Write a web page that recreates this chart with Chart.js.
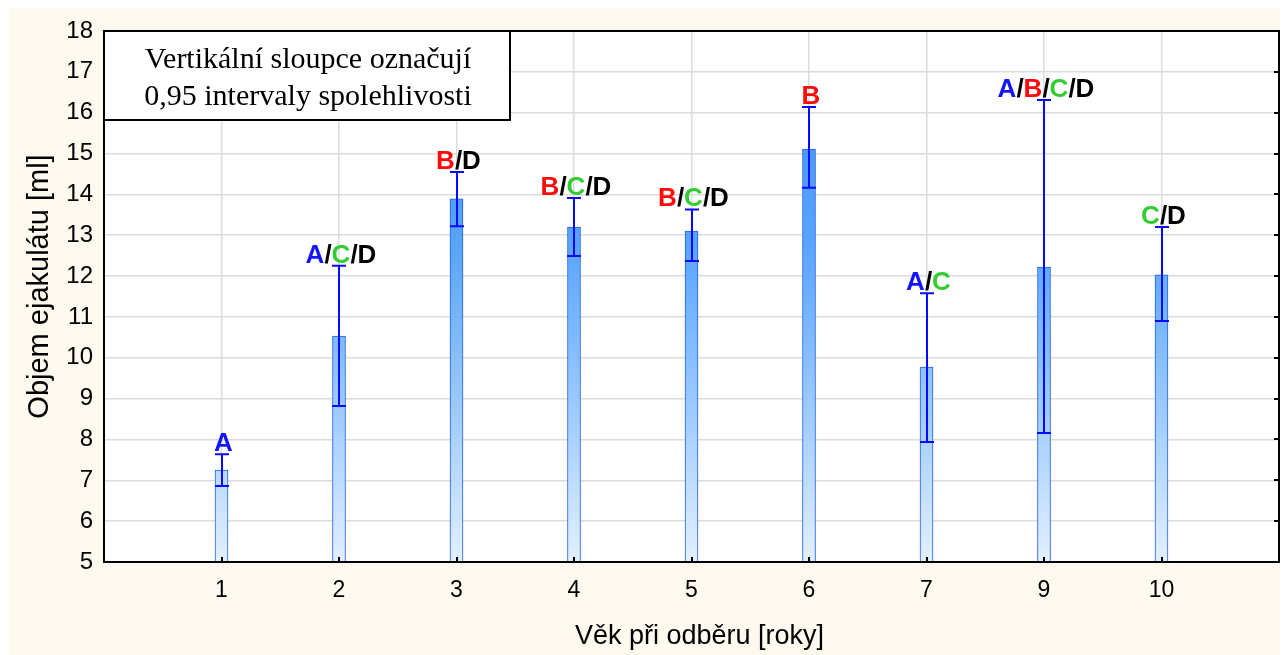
<!DOCTYPE html>
<html><head><meta charset="utf-8">
<script src="https://cdn.jsdelivr.net/npm/chart.js@4/dist/chart.umd.min.js"></script>
<style>html,body{margin:0;padding:0;background:#fff;overflow:hidden;}#wrap{width:1283px;height:655px;position:relative;overflow:hidden;}canvas{display:block;}</style>
</head><body><div id="wrap"><canvas id="c" width="1294" height="655"></canvas></div>
<script>
const categories = ['1','2','3','4','5','6','7','9','10'];
const means = [7.25, 10.53, 13.89, 13.2, 13.1, 15.11, 9.77, 12.22, 12.03];
const lower = [6.86, 8.82, 13.22, 12.49, 12.37, 14.16, 7.94, 8.16, 10.9];
const upper = [7.64, 12.25, 14.55, 13.91, 13.63, 16.14, 11.58, 16.31, 13.2];
const groups = ['A', 'A/C/D', 'B/D', 'B/C/D', 'B/C/D', 'B', 'A/C', 'A/B/C/D', 'C/D'];
const yTicks = [5,6,7,8,9,10,11,12,13,14,15,16,17,18];
const noteLines = ['Vertikální sloupce označují', '0,95 intervaly spolehlivosti'];
const xTitle = 'Věk při odběru [roky]';
const yTitle = 'Objem ejakulátu [ml]';

const labels = [''].concat(categories).concat(['']);
const barData = [null].concat(means).concat([null]);
const letterColors = {A:'#1414ff', B:'#ff0a0a', C:'#33cc33', D:'#000000', '/':'#000000'};

const bgPlugin = {
  id:'bg',
  beforeDraw(chart){
    const ctx = chart.ctx, a = chart.chartArea;
    ctx.save();
    ctx.fillStyle = '#ffffff';
    ctx.fillRect(0,0,chart.width,chart.height);
    ctx.fillStyle = '#fef9ee';
    ctx.fillRect(9,8,1271,chart.height-8);
    ctx.fillStyle = '#ffffff';
    ctx.fillRect(a.left,a.top,a.right-a.left,a.bottom-a.top);
    ctx.restore();
  }
};

const overlay = {
  id:'overlay',
  afterDatasetsDraw(chart){
    const ctx = chart.ctx, a = chart.chartArea;
    const xs = chart.scales.x, ys = chart.scales.y;
    ctx.save();
    // error bars
    ctx.strokeStyle = '#0a0aff';
    ctx.lineWidth = 2;
    categories.forEach((c,i)=>{
      const x = Math.round(xs.getPixelForValue(i+1));
      const yl = ys.getPixelForValue(lower[i]);
      const yu = ys.getPixelForValue(upper[i]);
      ctx.beginPath();
      ctx.moveTo(x, yl); ctx.lineTo(x, yu);
      ctx.moveTo(x-7, yl); ctx.lineTo(x+7, yl);
      ctx.moveTo(x-7, yu); ctx.lineTo(x+7, yu);
      ctx.stroke();
    });
    // group letters
    ctx.font = 'bold 26px "Liberation Sans", Arial, sans-serif';
    ctx.textBaseline = 'alphabetic';
    ctx.textAlign = 'left';
    categories.forEach((c,i)=>{
      const x = xs.getPixelForValue(i+1);
      const yu = ys.getPixelForValue(upper[i]);
      const s = groups[i];
      const w = ctx.measureText(s).width;
      let cx = x - w/2 + 2;
      for (const ch of s){
        ctx.fillStyle = letterColors[ch] || '#000';
        ctx.fillText(ch, cx, yu - 3);
        cx += ctx.measureText(ch).width;
      }
    });
    // inner ticks
    ctx.strokeStyle = '#000';
    ctx.lineWidth = 2;
    categories.forEach((c,i)=>{
      const x = Math.round(xs.getPixelForValue(i+1));
      ctx.beginPath(); ctx.moveTo(x, a.bottom); ctx.lineTo(x, a.bottom-5); ctx.stroke();
    });
    yTicks.forEach(v=>{
      const y = Math.round(ys.getPixelForValue(v));
      ctx.beginPath(); ctx.moveTo(a.right, y); ctx.lineTo(a.right-5, y); ctx.stroke();
    });
    // frame
    ctx.strokeStyle = '#000';
    ctx.lineWidth = 2;
    ctx.strokeRect(a.left, a.top, a.right-a.left, a.bottom-a.top);
    // note box
    ctx.fillStyle = '#fff';
    ctx.fillRect(a.left, a.top, 406, 89);
    ctx.lineWidth = 2;
    ctx.strokeRect(a.left, a.top, 406, 89);
    ctx.fillStyle = '#000';
    ctx.font = '30px "Liberation Serif", "Times New Roman", serif';
    ctx.textAlign = 'center';
    ctx.textBaseline = 'middle';
    ctx.fillText(noteLines[0], a.left+204, a.top+29);
    ctx.fillText(noteLines[1], a.left+204, a.top+66);
    // titles
    ctx.font = '27px "Liberation Sans", Arial, sans-serif';
    ctx.fillText(xTitle, (a.left+a.right)/2 + 8, 637);
    ctx.save();
    ctx.font = '29px "Liberation Sans", Arial, sans-serif';
    ctx.translate(40, (a.top+a.bottom)/2 - 10);
    ctx.rotate(-Math.PI/2);
    ctx.fillText(yTitle, 0, 0);
    ctx.restore();
    ctx.restore();
  }
};

new Chart(document.getElementById('c'), {
  type:'bar',
  data:{
    labels: labels,
    datasets:[{
      data: barData,
      barThickness: 13,
      borderWidth: 1,
      borderColor: '#1d5fe6',
      borderSkipped: false,
      backgroundColor(ctx){
        const a = ctx.chart.chartArea;
        if (!a) return '#8fc0ff';
        const g = ctx.chart.ctx.createLinearGradient(0, a.top, 0, a.bottom);
        g.addColorStop(0, '#3a8eff');
        g.addColorStop(0.4, '#58a4ff');
        g.addColorStop(0.75, '#a6cfff');
        g.addColorStop(1, '#e3f0ff');
        return g;
      }
    }]
  },
  options:{
    responsive:false,
    animation:false,
    layout:{padding:{left:0, top:31, right:0, bottom:0}},
    plugins:{legend:{display:false}, tooltip:{enabled:false}},
    scales:{
      x:{
        type:'category',
        offset:false,
        grid:{offset:false, color:'#dcdcdc', lineWidth:1.5, drawTicks:false},
        border:{display:false},
        ticks:{color:'#000', font:{family:'"Liberation Sans", Arial, sans-serif', size:23}, padding:15, maxRotation:0, autoSkip:false},
        afterFit(s){ s.height = 93; }
      },
      y:{
        min:5, max:18,
        grid:{color:'#dcdcdc', lineWidth:1.5, drawTicks:false},
        border:{display:false},
        afterBuildTicks(s){ s.ticks = yTicks.map(v=>({value:v})); },
        ticks:{color:'#000', font:{family:'"Liberation Sans", Arial, sans-serif', size:24}, padding:11},
        afterFit(s){ s.width = 104; }
      }
    }
  },
  plugins:[bgPlugin, overlay]
});
</script></body></html>
